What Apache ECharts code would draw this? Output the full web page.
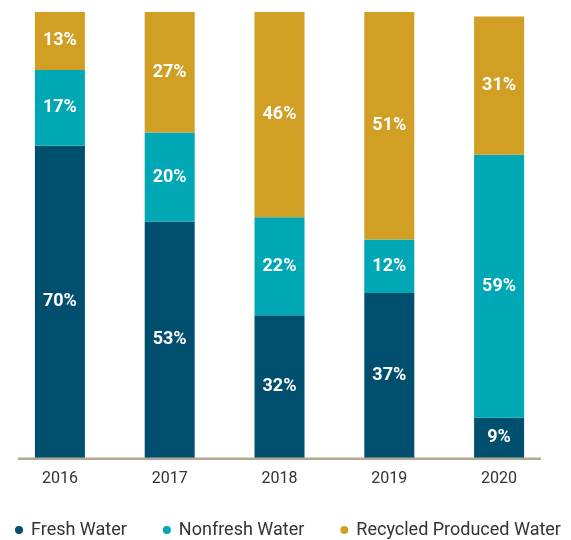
<!DOCTYPE html>
<html>
<head>
<meta charset="utf-8">
<script src="https://cdn.jsdelivr.net/npm/echarts@6/dist/echarts.min.js"></script>
<style>html,body{margin:0;padding:0;background:#fff}#c{width:571px;height:540px}</style>
</head>
<body>
<div id="c"></div>
<script>
const categories = ['2016', '2017', '2018', '2019', '2020'];
const freshWater = [70, 53, 32, 37, 9];
const nonfreshWater = [17, 20, 22, 12, 59];
const recycledWater = [13, 27, 46, 51, 31];

const chart = echarts.init(document.getElementById('c'));
const font = 'Roboto, "Liberation Sans", sans-serif';
const lbl = {
  show: true, position: 'inside', color: '#fff', fontWeight: 'bold',
  fontSize: 18, fontFamily: font, formatter: p => p.value + '%'
};
function s(name, data, color) {
  return { name, type: 'bar', stack: 'a', data, barWidth: 50,
    itemStyle: { color }, label: lbl, emphasis: { disabled: true } };
}
chart.setOption({
  animation: false,
  grid: { left: 5, right: 17, top: 12, bottom: 82 },
  xAxis: {
    type: 'category', data: categories,
    axisLine: { show: false }, axisTick: { show: false },
    axisLabel: { color: '#333', fontSize: 16, fontFamily: font, margin: 13 }
  },
  yAxis: { type: 'value', min: 0, max: 100, show: false, splitLine: { show: false } },
  legend: {
    top: 516, left: 10, icon: 'circle', itemWidth: 8, itemHeight: 8, itemGap: 36,
    textStyle: { color: '#333', fontSize: 18, fontFamily: font, padding: [0, 0, 0, 3] }
  },
  graphic: [{ type: 'rect', shape: { x: 18, y: 457.5, width: 523, height: 2.5 },
    style: { fill: '#b3a796' }, z: 10 }],
  series: [
    s('Fresh Water', freshWater, '#004f6e'),
    s('Nonfresh Water', nonfreshWater, '#00a7b4'),
    s('Recycled Produced Water', recycledWater, '#d09f23')
  ]
});
</script>
</body>
</html>
